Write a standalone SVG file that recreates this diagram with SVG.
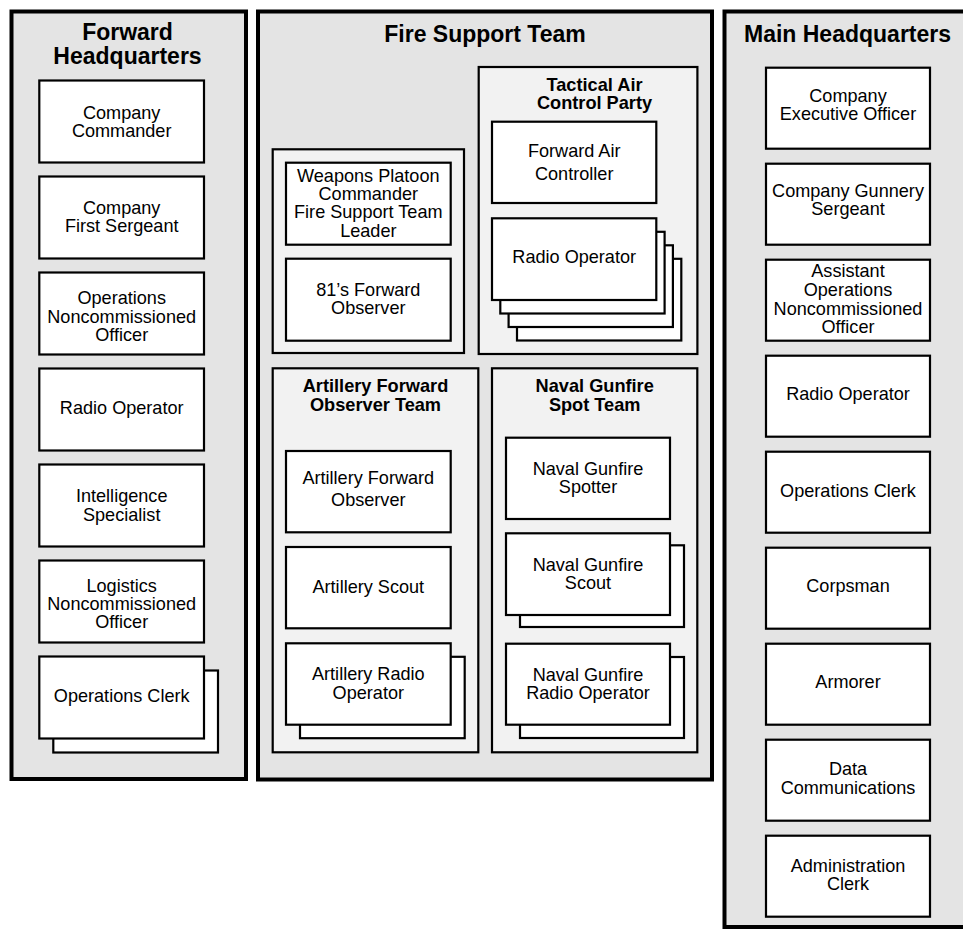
<svg xmlns="http://www.w3.org/2000/svg" width="963" height="929" viewBox="0 0 963 929">
<style>
.panel{fill:#e4e4e4;stroke:#000;stroke-width:4}
.team{fill:#f2f2f2;stroke:#000;stroke-width:2.2}
.box{fill:#fff;stroke:#000;stroke-width:2.2}
.t{font-family:"Liberation Sans",Arial,Helvetica,sans-serif;font-size:18.1px;text-anchor:middle;fill:#000}
.h1{font-family:"Liberation Sans",Arial,Helvetica,sans-serif;font-size:23px;font-weight:bold;text-anchor:middle;fill:#000}
.h2{font-family:"Liberation Sans",Arial,Helvetica,sans-serif;font-size:18.2px;font-weight:bold;text-anchor:middle;fill:#000}
</style>
<rect width="963" height="929" fill="#fff"/>
<g id="connectors"></g>

<!-- Forward Headquarters -->
<g id="forward-hq">
<rect class="panel" x="11.5" y="11.5" width="234.5" height="767.5"/>
<text class="h1" x="127.5" y="40.3">Forward<tspan x="127.5" dy="24">Headquarters</tspan></text>
</g>
<g id="fwd-company-commander">
<rect class="box" x="39.3" y="80.5" width="164.7" height="82"/>
<text class="t" x="121.7" y="118.9">Company<tspan x="121.7" dy="18.2">Commander</tspan></text>
</g>
<g id="fwd-first-sergeant">
<rect class="box" x="39.3" y="176.5" width="164.7" height="82"/>
<text class="t" x="121.7" y="214.2">Company<tspan x="121.7" dy="18.2">First Sergeant</tspan></text>
</g>
<g id="fwd-ops-nco">
<rect class="box" x="39.3" y="272.5" width="164.7" height="82"/>
<text class="t" x="121.7" y="304.4">Operations<tspan x="121.7" dy="18.2">Noncommissioned</tspan><tspan x="121.7" dy="18.2">Officer</tspan></text>
</g>
<g id="fwd-radio-operator">
<rect class="box" x="39.3" y="368.5" width="164.7" height="82"/>
<text class="t" x="121.7" y="414.3">Radio Operator</text>
</g>
<g id="fwd-intelligence">
<rect class="box" x="39.3" y="464.5" width="164.7" height="82"/>
<text class="t" x="121.7" y="502.3">Intelligence<tspan x="121.7" dy="18.2">Specialist</tspan></text>
</g>
<g id="fwd-logistics-nco">
<rect class="box" x="39.3" y="560.5" width="164.7" height="82"/>
<text class="t" x="121.7" y="591.8">Logistics<tspan x="121.7" dy="18.2">Noncommissioned</tspan><tspan x="121.7" dy="18.2">Officer</tspan></text>
</g>
<g id="fwd-ops-clerk">
<rect class="box" x="53.3" y="670.5" width="164.7" height="82"/>
<rect class="box" x="39.3" y="656.5" width="164.7" height="82"/>
<text class="t" x="121.7" y="701.7">Operations Clerk</text>
</g>

<!-- Fire Support Team -->
<g id="fire-support-team">
<rect class="panel" x="258" y="11.5" width="454" height="768"/>
<text class="h1" x="485" y="42.3">Fire Support Team</text>
</g>
<g id="wpns-group">
<rect class="team" x="272.7" y="149.3" width="191.3" height="203.7"/>
</g>
<g id="wpns-plt-cmdr">
<rect class="box" x="286" y="162.7" width="164.7" height="82"/>
<text class="t" x="368.3" y="181.6">Weapons Platoon<tspan x="368.3" dy="18.3">Commander</tspan><tspan x="368.3" dy="18.4">Fire Support Team</tspan><tspan x="368.3" dy="18.3">Leader</tspan></text>
</g>
<g id="fo-81s">
<rect class="box" x="286" y="258.7" width="164.7" height="82"/>
<text class="t" x="368.3" y="296">81’s Forward<tspan x="368.3" dy="18.3">Observer</tspan></text>
</g>
<g id="tacp">
<rect class="team" x="478.7" y="67" width="218.7" height="287"/>
<text class="h2" x="594.5" y="90.6">Tactical Air<tspan x="594.5" dy="18.5">Control Party</tspan></text>
</g>
<g id="tacp-fac">
<rect class="box" x="492" y="121.7" width="164.3" height="81.3"/>
<text class="t" x="574.2" y="156.7">Forward Air<tspan x="574.2" dy="23">Controller</tspan></text>
</g>
<g id="tacp-radio-operator">
<rect class="box" x="517" y="258.8" width="164.3" height="81.7"/>
<rect class="box" x="508.6" y="245.3" width="164.3" height="81.7"/>
<rect class="box" x="500.3" y="231.8" width="164.3" height="81.7"/>
<rect class="box" x="492" y="218.3" width="164.3" height="81.7"/>
<text class="t" x="574.2" y="263.3">Radio Operator</text>
</g>
<g id="arty-fo-team">
<rect class="team" x="272.7" y="368.3" width="205.6" height="384"/>
<text class="h2" x="375.5" y="392.3">Artillery Forward<tspan x="375.5" dy="18.7">Observer Team</tspan></text>
</g>
<g id="arty-fo">
<rect class="box" x="286" y="451" width="164.7" height="81.3"/>
<text class="t" x="368.3" y="484">Artillery Forward<tspan x="368.3" dy="21.7">Observer</tspan></text>
</g>
<g id="arty-scout">
<rect class="box" x="286" y="547" width="164.7" height="81.3"/>
<text class="t" x="368.3" y="592.7">Artillery Scout</text>
</g>
<g id="arty-radio-operator">
<rect class="box" x="300" y="656.8" width="164.7" height="81.4"/>
<rect class="box" x="286" y="643.3" width="164.7" height="81.4"/>
<text class="t" x="368.3" y="680">Artillery Radio<tspan x="368.3" dy="19">Operator</tspan></text>
</g>
<g id="ngf-spot-team">
<rect class="team" x="492" y="368.3" width="205.3" height="384"/>
<text class="h2" x="594.7" y="392.3">Naval Gunfire<tspan x="594.7" dy="18.7">Spot Team</tspan></text>
</g>
<g id="ngf-spotter">
<rect class="box" x="506" y="437.7" width="164" height="81.3"/>
<text class="t" x="588" y="474.8">Naval Gunfire<tspan x="588" dy="18.2">Spotter</tspan></text>
</g>
<g id="ngf-scout">
<rect class="box" x="520" y="545.3" width="164" height="81.7"/>
<rect class="box" x="506" y="533.3" width="164" height="81.7"/>
<text class="t" x="588" y="570.5">Naval Gunfire<tspan x="588" dy="18.2">Scout</tspan></text>
</g>
<g id="ngf-radio-operator">
<rect class="box" x="520" y="657" width="164" height="81"/>
<rect class="box" x="506" y="643.7" width="164" height="81"/>
<text class="t" x="588" y="680.9">Naval Gunfire<tspan x="588" dy="18.2">Radio Operator</tspan></text>
</g>

<!-- Main Headquarters -->
<g id="main-hq">
<rect class="panel" x="724.5" y="11.5" width="260" height="915.5"/>
<text class="h1" x="847.5" y="41.7">Main Headquarters</text>
</g>
<g id="main-xo">
<rect class="box" x="766" y="67.7" width="164" height="81"/>
<text class="t" x="848" y="101.6">Company<tspan x="848" dy="18.2">Executive Officer</tspan></text>
</g>
<g id="main-gunny">
<rect class="box" x="766" y="163.7" width="164" height="81"/>
<text class="t" x="848" y="196.7">Company Gunnery<tspan x="848" dy="18.3">Sergeant</tspan></text>
</g>
<g id="main-asst-ops-nco">
<rect class="box" x="766" y="259.7" width="164" height="81"/>
<text class="t" x="848" y="277.2">Assistant<tspan x="848" dy="18.6">Operations</tspan><tspan x="848" dy="18.8">Noncommissioned</tspan><tspan x="848" dy="18.2">Officer</tspan></text>
</g>
<g id="main-radio-operator">
<rect class="box" x="766" y="355.7" width="164" height="81"/>
<text class="t" x="848" y="400">Radio Operator</text>
</g>
<g id="main-ops-clerk">
<rect class="box" x="766" y="451.7" width="164" height="81"/>
<text class="t" x="848" y="496.7">Operations Clerk</text>
</g>
<g id="main-corpsman">
<rect class="box" x="766" y="547.7" width="164" height="81"/>
<text class="t" x="848" y="591.7">Corpsman</text>
</g>
<g id="main-armorer">
<rect class="box" x="766" y="643.7" width="164" height="81"/>
<text class="t" x="848" y="688.3">Armorer</text>
</g>
<g id="main-data-comms">
<rect class="box" x="766" y="739.7" width="164" height="81"/>
<text class="t" x="848" y="775">Data<tspan x="848" dy="19.3">Communications</tspan></text>
</g>
<g id="main-admin-clerk">
<rect class="box" x="766" y="835.7" width="164" height="81"/>
<text class="t" x="848" y="871.7">Administration<tspan x="848" dy="18.3">Clerk</tspan></text>
</g>
</svg>
